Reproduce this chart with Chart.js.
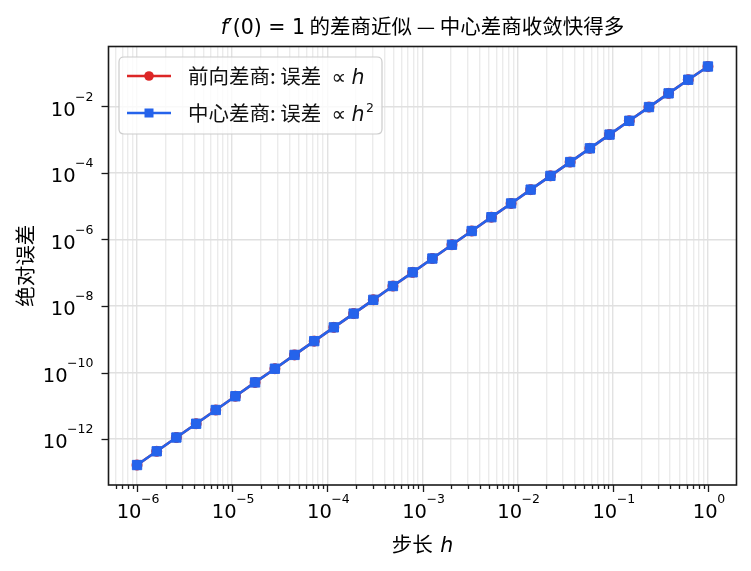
<!DOCTYPE html>
<html><head><meta charset="utf-8">
<script src="https://cdn.jsdelivr.net/npm/chart.js@4.4.1/dist/chart.umd.min.js"></script>
<style>html,body{margin:0;padding:0;background:#fff}#wrap{width:751px;height:571px;position:relative}</style>
</head><body><div id="wrap"><canvas id="c" width="751" height="571"></canvas></div>
<script>
// ---- data ----
const stepSizes = [1e-6, 1.61e-6, 2.59e-6, 4.18e-6, 6.72e-6, 1.08e-5, 1.74e-5, 2.81e-5, 4.52e-5, 7.28e-5,
  1.17e-4, 1.89e-4, 3.04e-4, 4.89e-4, 7.88e-4, 1.27e-3, 2.04e-3, 3.29e-3, 5.30e-3, 8.53e-3,
  1.37e-2, 2.21e-2, 3.56e-2, 5.74e-2, 9.24e-2, 0.149, 0.240, 0.386, 0.621, 1.0];
const forwardError = [1.67e-13, 4.32e-13, 1.12e-12, 2.91e-12, 7.53e-12, 1.95e-11, 5.07e-11, 1.31e-10, 3.40e-10, 8.83e-10,
  2.29e-9, 5.94e-9, 1.54e-8, 3.99e-8, 1.03e-7, 2.68e-7, 6.96e-7, 1.80e-6, 4.68e-6, 1.21e-5,
  3.15e-5, 8.16e-5, 2.12e-4, 5.49e-4, 1.42e-3, 3.69e-3, 9.53e-3, 2.46e-2, 6.32e-2, 0.158];
const centralError = [1.67e-13, 4.32e-13, 1.12e-12, 2.91e-12, 7.53e-12, 1.95e-11, 5.07e-11, 1.31e-10, 3.40e-10, 8.83e-10,
  2.29e-9, 5.94e-9, 1.54e-8, 3.99e-8, 1.03e-7, 2.68e-7, 6.96e-7, 1.80e-6, 4.68e-6, 1.21e-5,
  3.15e-5, 8.16e-5, 2.12e-4, 5.49e-4, 1.42e-3, 3.69e-3, 9.53e-3, 2.46e-2, 6.32e-2, 0.158];
const seriesLabels = ['前向差商: 误差', '中心差商: 误差'];
const seriesExponent = ['', '2'];
const xTickExps = [-6, -5, -4, -3, -2, -1, 0];
const yTickExps = [-12, -10, -8, -6, -4, -2];
const xMinorSubs = [2, 3, 4, 5, 6, 7, 8, 9];
const titleParts = ['f', '\u2032(0) = 1', ' 的差商近似 — 中心差商收敛快得多'];
const xAxisLabel = ['步长 ', 'h'];
const yAxisLabel = '绝对误差';

// ---- styles ----
const RED = '#dc2626', BLUE = '#2563eb';
const CJK = '"Noto Sans CJK SC", "Noto Sans", sans-serif';
const MATH = '"DejaVu Sans", sans-serif';
const FS = 20.5;
const TICK_FONT = '19.5px ' + MATH;
const SUP_FONT = '12.5px ' + MATH;

function drawRuns(ctx, runs, x, y, align) {
  let total = 0;
  runs.forEach(r => { ctx.font = r.font; r.w = ctx.measureText(r.text).width; total += (r.dx || 0) + r.w; });
  let cx = align === 'center' ? x - total / 2 : (align === 'right' ? x - total : x);
  ctx.textAlign = 'left'; ctx.textBaseline = 'alphabetic';
  runs.forEach(r => { cx += (r.dx || 0); ctx.font = r.font; ctx.fillText(r.text, cx, y - (r.dy || 0)); cx += r.w; });
  return total;
}
function powRuns(e) {
  return [{ text: '10', font: TICK_FONT }, { text: (e < 0 ? '\u2212' : '') + Math.abs(e), font: SUP_FONT, dx: -0.5, dy: 15 }];
}

const decorPlugin = {
  id: 'decor',
  beforeDraw(chart) {
    const c = chart.ctx; c.save(); c.fillStyle = '#fff'; c.fillRect(0, 0, chart.width, chart.height); c.restore();
  },
  afterDraw(chart) {
    const c = chart.ctx, a = chart.chartArea, xs = chart.scales.x, ys = chart.scales.y;
    c.save();
    // spines
    c.strokeStyle = '#1a1a1a'; c.lineWidth = 1.6;
    c.strokeRect(a.left, a.top, a.right - a.left, a.bottom - a.top);
    // tick marks
    c.lineWidth = 1.3;
    xs.ticks.forEach(t => {
      const px = Math.round(xs.getPixelForValue(t.value)) + 0.5;
      const len = t.major ? 7 : 4;
      c.beginPath(); c.moveTo(px, a.bottom); c.lineTo(px, a.bottom + len); c.stroke();
    });
    ys.ticks.forEach(t => {
      const py = Math.round(ys.getPixelForValue(t.value)) + 0.5;
      c.beginPath(); c.moveTo(a.left, py); c.lineTo(a.left - 7, py); c.stroke();
    });
    // tick labels
    c.fillStyle = '#000';
    xTickExps.forEach(e => drawRuns(c, powRuns(e), xs.getPixelForValue(Math.pow(10, e)) + 1, a.bottom + 33, 'center'));
    yTickExps.forEach(e => drawRuns(c, powRuns(e), a.left - 15, ys.getPixelForValue(Math.pow(10, e)) + 9.3, 'right'));
    // title
    const midX = (a.left + a.right) / 2;
    drawRuns(c, [
      { text: titleParts[0], font: 'italic ' + FS + 'px ' + MATH },
      { text: titleParts[1], font: FS + 'px ' + MATH },
      { text: titleParts[2], font: FS + 'px ' + CJK }
    ], midX, 33.5, 'center');
    // x label
    drawRuns(c, [
      { text: xAxisLabel[0], font: FS + 'px ' + CJK },
      { text: xAxisLabel[1], font: 'italic ' + FS + 'px ' + MATH, dx: 3 }
    ], midX, 552, 'center');
    // y label
    c.save(); c.translate(25, (a.top + a.bottom) / 2); c.rotate(-Math.PI / 2);
    c.font = FS + 'px ' + CJK; c.textAlign = 'center'; c.textBaseline = 'middle';
    c.fillText(yAxisLabel, 0, 0); c.restore();
    // legend
    const lx = 119, ly = 57, lw = 263, lh = 77, r = 5;
    c.beginPath();
    c.moveTo(lx + r, ly); c.lineTo(lx + lw - r, ly); c.quadraticCurveTo(lx + lw, ly, lx + lw, ly + r);
    c.lineTo(lx + lw, ly + lh - r); c.quadraticCurveTo(lx + lw, ly + lh, lx + lw - r, ly + lh);
    c.lineTo(lx + r, ly + lh); c.quadraticCurveTo(lx, ly + lh, lx, ly + lh - r);
    c.lineTo(lx, ly + r); c.quadraticCurveTo(lx, ly, lx + r, ly); c.closePath();
    c.fillStyle = 'rgba(255,255,255,0.8)'; c.fill();
    c.strokeStyle = '#cccccc'; c.lineWidth = 1.2; c.stroke();
    const rowsY = [76, 113];
    chart.data.datasets.forEach((ds, i) => {
      const yy = rowsY[i];
      c.strokeStyle = ds.borderColor; c.lineWidth = ds.borderWidth;
      c.beginPath(); c.moveTo(127, yy); c.lineTo(171, yy); c.stroke();
      c.fillStyle = ds.backgroundColor;
      if (ds.pointStyle === 'rect') { c.fillRect(149 - 4.5, yy - 4.5, 9, 9); }
      else { c.beginPath(); c.arc(149, yy, 4.8, 0, Math.PI * 2); c.fill(); }
      c.fillStyle = '#111';
      const runs = [
        { text: ds.label + ' ', font: FS + 'px ' + CJK },
        { text: '\u221D', font: FS + 'px ' + MATH, dx: 5.5 },
        { text: 'h', font: 'italic ' + FS + 'px ' + MATH, dx: 5.5 }
      ];
      if (seriesExponent[i]) runs.push({ text: seriesExponent[i], font: SUP_FONT, dx: 1.5, dy: 9 });
      drawRuns(c, runs, 188, yy + 8, 'left');
    });
    c.restore();
  }
};

const xGridTicks = [];
for (let e = -7; e <= 0; e++) {
  [1].concat(xMinorSubs).forEach(m => {
    const v = m * Math.pow(10, e);
    if (v >= Math.pow(10, -6.3) && v <= Math.pow(10, 0.3)) xGridTicks.push({ value: v, major: m === 1 });
  });
}

new Chart(document.getElementById('c'), {
  type: 'line',
  data: {
    datasets: [
      { label: seriesLabels[0], data: stepSizes.map((h, i) => ({ x: h, y: forwardError[i] })),
        borderColor: RED, backgroundColor: RED, borderWidth: 2.6, pointStyle: 'circle', pointRadius: 5,
        pointBorderWidth: 1, pointBorderColor: RED, order: 2 },
      { label: seriesLabels[1], data: stepSizes.map((h, i) => ({ x: h, y: centralError[i] })),
        borderColor: BLUE, backgroundColor: BLUE, borderWidth: 2.6, pointStyle: 'rect', pointRadius: 6.6,
        pointBorderWidth: 1, pointBorderColor: BLUE, order: 1 }
    ]
  },
  options: {
    responsive: false, animation: false, devicePixelRatio: 1,
    layout: { padding: { left: 0, right: 14.5, top: 46.5, bottom: 0 } },
    plugins: { legend: { display: false }, title: { display: false }, tooltip: { enabled: false } },
    scales: {
      x: {
        type: 'logarithmic', min: Math.pow(10, -6.3), max: Math.pow(10, 0.3),
        afterBuildTicks: s => { s.ticks = xGridTicks.map(t => ({ value: t.value, major: t.major })); },
        afterFit: s => { s.height = 86; },
        ticks: { display: false, autoSkip: false },
        border: { display: false },
        grid: { drawTicks: false, lineWidth: 1.4, color: c => (c.tick && c.tick.major) ? '#e2e2e2' : '#ebebeb' }
      },
      y: {
        type: 'logarithmic', min: Math.pow(10, -13.377), max: Math.pow(10, -0.201),
        afterBuildTicks: s => { s.ticks = yTickExps.map(e => ({ value: Math.pow(10, e), major: true })); },
        afterFit: s => { s.width = 108.5; },
        ticks: { display: false, autoSkip: false },
        border: { display: false },
        grid: { drawTicks: false, lineWidth: 1.4, color: '#e0e0e0' }
      }
    }
  },
  plugins: [decorPlugin]
});
</script></body></html>
